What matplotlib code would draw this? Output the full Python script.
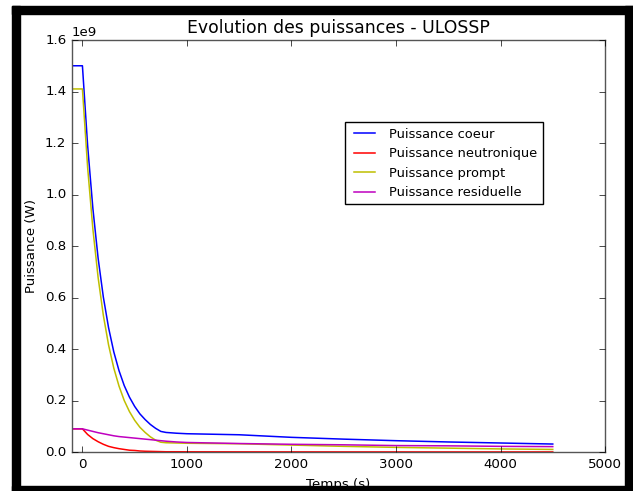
import numpy as np
import matplotlib
matplotlib.use('Agg')
import matplotlib.pyplot as plt
from matplotlib.patches import Rectangle

plt.style.use('classic')

# temps (s)
temps = [-100, 0, 50, 100, 150, 200, 250, 300, 350, 400, 450, 500, 550, 600,
         650, 700, 750, 800, 900, 1000, 1500, 2000, 2500, 3000, 3500, 4000, 4500]

# puissances en GW (x1e9 W)
p_coeur = [1.50, 1.50, 1.189, 0.946, 0.753, 0.602, 0.483, 0.389, 0.316, 0.258,
           0.213, 0.177, 0.148, 0.126, 0.107, 0.092, 0.080, 0.076, 0.073, 0.071,
           0.067, 0.057, 0.050, 0.044, 0.039, 0.035, 0.031]
p_neutron = [0.090, 0.090, 0.068, 0.052, 0.040, 0.030, 0.022, 0.017, 0.013, 0.010,
             0.007, 0.006, 0.004, 0.003, 0.0025, 0.002, 0.0015, 0.001, 0.001, 0.0008,
             0.0006, 0.0005, 0.0004, 0.0004, 0.0003, 0.0003, 0.0003]
p_prompt = [1.41, 1.41, 1.104, 0.866, 0.678, 0.531, 0.416, 0.326, 0.256, 0.200,
            0.157, 0.123, 0.096, 0.076, 0.059, 0.046, 0.038, 0.036, 0.035, 0.034,
            0.032, 0.027, 0.022, 0.018, 0.015, 0.012, 0.010]
p_residuelle = [0.090, 0.090, 0.085, 0.080, 0.075, 0.071, 0.067, 0.063, 0.060, 0.058,
                0.056, 0.054, 0.052, 0.050, 0.048, 0.046, 0.044, 0.042, 0.039, 0.037,
                0.033, 0.030, 0.028, 0.025, 0.024, 0.022, 0.021]

fig = plt.figure(figsize=(6.33, 4.91), dpi=100, facecolor='white')
ax = fig.add_axes([0.1137, 0.0794, 0.8421, 0.8391])
ax.set_facecolor('white')

lw = 1.1
ax.plot(temps, np.array(p_coeur) * 1e9, 'b', lw=lw, label='Puissance coeur')
ax.plot(temps, np.array(p_neutron) * 1e9, 'r', lw=lw, label='Puissance neutronique')
ax.plot(temps, np.array(p_prompt) * 1e9, 'y', lw=lw, label='Puissance prompt')
ax.plot(temps, np.array(p_residuelle) * 1e9, 'm', lw=lw, label='Puissance residuelle')

ax.set_xlim(-100, 5000)
ax.set_ylim(0, 1.6e9)
ax.set_xticks([0, 1000, 2000, 3000, 4000, 5000])
ax.set_yticks(np.arange(0, 1.61e9, 0.2e9))
ax.tick_params(labelsize=9.6)
ax.yaxis.get_offset_text().set_fontsize(9.6)
for s in ax.spines.values():
    s.set_color('#555555')

ax.set_title('Evolution des puissances - ULOSSP', fontsize=12.4)
ax.set_xlabel('Temps (s)', fontsize=9.6)
ax.set_ylabel('Puissance (W)', fontsize=9.6)

ax.legend(loc='upper left', bbox_to_anchor=(0.512, 0.80), borderaxespad=0,
          fontsize=9.4, handlelength=2.2)

# cadre noir autour de la capture (x, y, largeur, hauteur en pixels)
cadre = [(12, 6, 8, 485), (12, 6, 621, 8), (625, 6, 8, 485), (12, 486, 621, 5)]
for x, y, w, h in cadre:
    fig.patches.append(Rectangle((x / 633, 1 - (y + h) / 491), w / 633, h / 491,
                                 transform=fig.transFigure, color='black',
                                 zorder=10))

fig.savefig('out.png', dpi=100, facecolor='white')
